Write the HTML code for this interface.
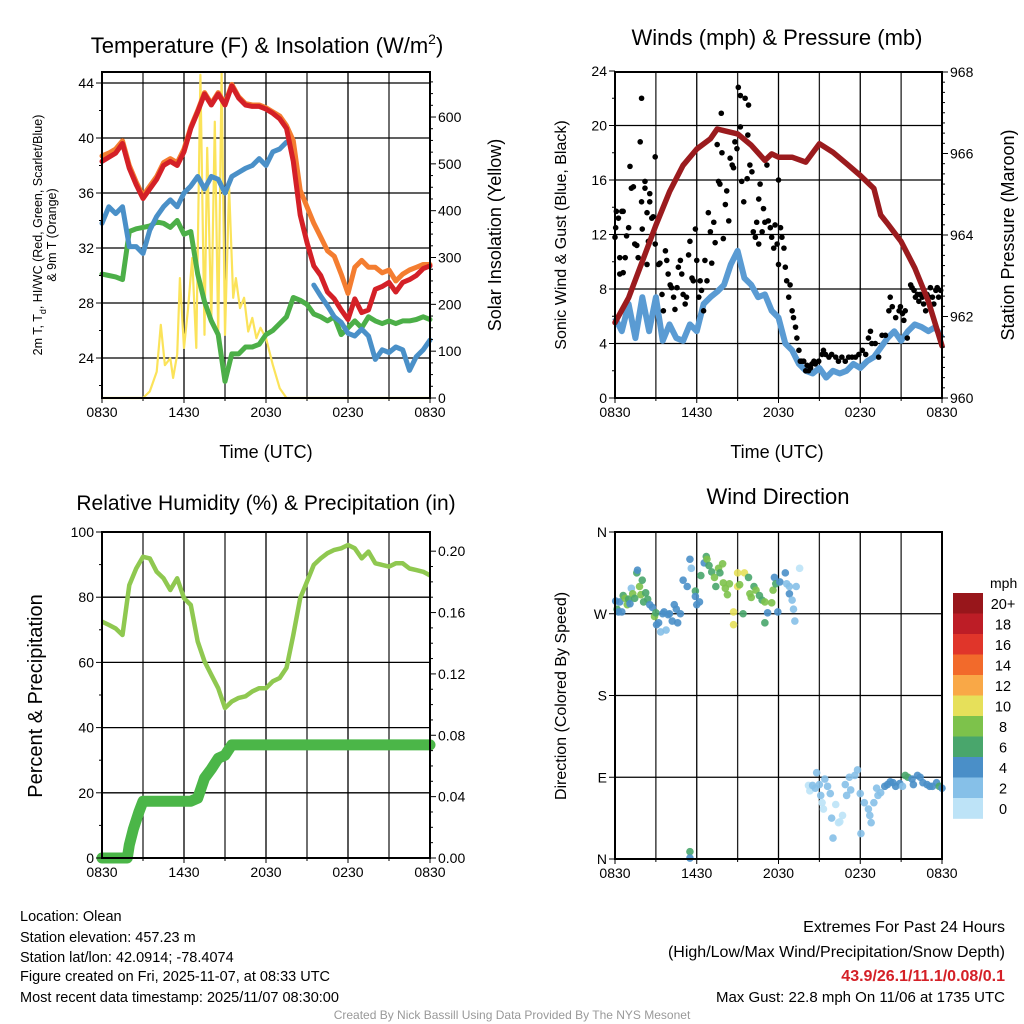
<!DOCTYPE html>
<html><head><meta charset="utf-8"><style>
html,body{margin:0;padding:0;background:#fff}
svg{display:block;font-family:"Liberation Sans",sans-serif}
</style></head><body>
<svg id="fig" width="1024" height="1024" viewBox="0 0 1024 1024" xmlns="http://www.w3.org/2000/svg">
<g id="p1"></g>
<g id="p2"></g>
<g id="p3"></g>
<g id="p4"></g>
<g id="txt">
<text x="20" y="921" font-size="14.5">Location: Olean</text>
<text x="20" y="942" font-size="14.5">Station elevation: 457.23 m</text>
<text x="20" y="962" font-size="14.5">Station lat/lon: 42.0914; -78.4074</text>
<text x="20" y="981" font-size="14.5">Figure created on Fri, 2025-11-07, at 08:33 UTC</text>
<text x="20" y="1002" font-size="14.5">Most recent data timestamp: 2025/11/07 08:30:00</text>
<text x="1005" y="932" font-size="16" text-anchor="end">Extremes For Past 24 Hours</text>
<text x="1005" y="957" font-size="16" text-anchor="end">(High/Low/Max Wind/Precipitation/Snow Depth)</text>
<text x="1005" y="981" font-size="16" font-weight="bold" fill="#d42027" text-anchor="end">43.9/26.1/11.1/0.08/0.1</text>
<text x="1005" y="1002" font-size="15" text-anchor="end">Max Gust: 22.8 mph On 11/06 at 1735 UTC</text>
<text x="512" y="1019" font-size="12" fill="#999" text-anchor="middle">Created By Nick Bassill Using Data Provided By The NYS Mesonet</text>
</g>
</svg>
<script>
// ---------- data ----------
const xTickLabels = ["0830","1430","2030","0230","0830"];
const tempRed = [38.3,38.6,38.9,39.6,37.8,36.6,35.6,36.3,37.0,38.0,38.3,38.0,39.0,40.7,41.9,43.2,42.4,43.2,42.4,43.8,42.9,42.4,42.3,42.3,42.1,41.8,41.4,40.7,38.3,34.4,32.4,30.7,30.0,28.8,28.3,27.5,26.8,28.3,27.3,27.5,29.0,29.2,29.5,28.8,29.5,29.7,30.0,30.5,30.7];
const tempOrange = [38.7,38.9,39.2,39.8,38.0,36.8,35.8,36.5,37.2,38.2,38.5,38.2,39.2,40.8,42.0,43.3,42.5,43.3,42.5,43.9,43.0,42.5,42.4,42.4,42.2,41.9,41.6,40.9,39.8,36.2,35.0,33.8,32.8,31.8,31.4,30.1,28.7,30.6,31.1,30.6,30.6,30.2,30.4,29.6,30.1,30.4,30.6,30.8,30.8];
const tempBlue = [33.8,35.0,34.5,35.0,32.1,32.1,31.6,33.3,34.3,35.0,35.5,35.0,36.0,36.5,37.2,36.3,37.2,37.0,36.0,37.2,37.5,37.8,38.0,38.5,38.0,39.0,39.2,39.7,null,null,null,29.3,28.5,27.8,27.0,26.6,25.8,25.6,26.1,25.6,23.9,24.6,24.4,24.8,24.6,23.1,24.1,24.6,25.3,24.6].slice(0,49);
const tempGreen = [30.1,30.0,29.9,29.7,33.2,33.4,33.5,33.6,33.9,33.8,33.5,34.0,33.0,33.2,30.1,28.1,26.7,25.7,22.3,24.3,24.3,24.8,24.8,25.0,25.7,26.0,26.5,27.0,28.4,28.2,27.9,27.2,27.0,26.7,27.0,25.7,26.2,26.7,26.2,27.0,26.7,26.5,26.7,26.5,26.7,26.7,26.8,27.0,26.8];
const solarT = [0,3.0,3.5,4.0,4.3,4.6,5.0,5.2,5.5,5.7,6.0,6.3,6.6,6.9,7.2,7.5,7.7,8.0,8.25,8.5,8.75,9.0,9.3,9.6,9.8,10.1,10.4,10.7,11.0,11.3,11.6,12.0,12.5,13.0,13.5,24];
const solarV = [0,0,14,56,156,70,85,43,93,256,107,192,299,107,690,135,534,164,590,135,696,135,449,214,256,192,214,142,171,128,150,128,71,21,0,0];
const windSonic = [5.9,4.9,6.9,4.4,7.4,4.9,7.4,4.2,5.4,4.4,4.2,5.4,4.9,6.9,7.4,7.8,8.3,9.8,10.8,8.8,8.3,7.4,7.6,6.4,5.9,4.0,3.5,2.5,2.0,1.8,2.2,1.5,2.0,1.8,2.0,2.5,2.2,2.7,3.0,3.7,4.4,4.9,4.2,4.9,5.4,5.2,4.9,5.2,4.4];
const pressT = [0,1,2,3,4,5,6,7,7.5,8,9,10,11,11.5,12,13,14,15,16,17,18,19,19.5,20,21,22,23,24];
const pressV = [961.85,962.46,963.35,964.24,965.06,965.71,966.11,966.36,966.60,966.56,966.48,966.20,965.83,965.99,965.91,965.91,965.79,966.24,966.03,965.75,965.46,965.14,964.49,964.28,963.84,963.19,962.37,961.28];
const gustT = [0.0,0.05,0.1,0.25,0.35,0.5,0.6,0.6,0.35,0.75,0.85,1.0,1.1,1.2,1.35,1.45,1.6,1.7,1.85,1.95,1.95,2.0,2.2,2.2,2.35,2.45,2.55,2.55,2.7,2.8,2.95,2.95,2.35,3.2,3.3,3.45,3.55,3.7,3.8,3.9,4.05,4.15,4.3,4.4,4.55,4.65,4.8,4.9,5.0,5.15,5.25,5.4,5.5,5.65,5.75,5.9,6.0,6.15,6.25,6.35,6.5,6.6,6.75,6.85,7.0,7.1,7.25,7.35,7.5,7.6,7.7,7.8,7.85,7.95,8.1,8.2,8.35,8.45,8.6,8.7,8.8,8.95,9.05,9.2,9.2,9.3,9.45,9.55,9.7,9.75,9.8,9.9,10.05,10.15,10.3,10.4,10.55,10.55,10.65,10.8,10.9,11.0,11.15,11.25,11.4,11.5,11.65,11.75,11.9,12.0,12.0,12.15,12.25,12.4,12.5,12.6,12.75,12.85,13.0,13.1,13.25,13.35,13.5,13.6,13.7,13.85,14.0,14.1,14.2,14.35,14.45,14.6,14.7,14.95,15.2,15.3,15.45,15.7,15.9,16.2,16.4,16.65,16.9,17.15,17.4,17.65,17.9,18.15,18.4,18.6,18.75,18.85,19.1,19.35,19.6,19.85,20.1,20.2,20.35,20.6,20.85,20.95,21.1,21.2,21.3,21.45,21.7,21.8,21.95,22.05,22.2,22.3,22.4,22.55,22.65,22.8,22.9,23.05,23.15,23.3,23.4,23.55,23.65,23.75,23.9];
const gustV = [11.8,12.5,13.7,13.2,10.3,13.7,9.2,13.7,9.1,10.3,11.9,12.5,17.0,15.4,15.5,11.3,11.2,10.3,18.8,22.0,14.4,12.4,15.4,15.9,13.6,11.5,14.4,15.0,13.2,13.3,17.7,11.3,9.8,9.8,9.9,7.6,6.4,10.8,10.1,9.1,8.3,8.1,7.4,6.5,8.1,9.6,10.1,9.1,7.6,6.9,7.4,10.5,11.5,8.8,8.6,12.4,10.1,7.4,8.6,7.9,6.4,10.1,8.6,13.6,12.2,9.9,12.9,11.4,18.6,15.9,15.7,20.9,18.0,11.7,14.2,15.2,13.0,17.6,17.1,16.9,18.8,18.3,22.8,22.2,19.9,15.9,14.4,22.0,16.1,19.3,21.5,17.1,16.6,12.2,11.8,12.9,11.3,14.6,15.7,12.2,13.9,12.9,17.1,13.0,12.5,11.8,11.0,12.7,11.3,9.8,16.0,12.5,11.8,11.0,9.6,8.6,7.4,8.3,6.4,5.9,5.2,4.4,3.5,2.7,2.7,2.7,2.0,2.4,2.0,2.2,2.5,2.7,2.5,2.7,3.2,3.5,3.2,3.0,3.2,3.0,2.7,3.0,2.7,3.0,3.0,3.0,3.2,3.5,3.2,4.4,4.9,4.0,4.0,3.0,4.6,4.6,6.4,7.4,6.7,5.9,6.4,6.7,6.2,5.7,6.4,4.4,8.3,8.1,7.9,7.4,7.6,7.1,7.6,7.4,6.9,6.4,7.6,7.4,8.1,7.4,6.9,7.9,8.1,7.4,7.9];
const rhV = [72.5,71.5,70.4,68.4,83.7,88.8,92.4,91.9,87.8,85.8,82.2,85.8,79.7,77.6,66.4,60.3,56.2,52.1,46.0,48.0,49.1,49.6,51.1,52.1,52.1,54.2,55.2,58.3,68.4,79.7,84.8,89.9,91.9,93.5,94.5,95.0,96.0,95.0,91.9,94.0,90.4,89.9,89.4,90.4,90.4,88.8,88.3,87.8,86.7];
const precipT = [0,1.85,2.0,2.3,2.7,3.0,6.5,7.0,7.5,8.0,8.5,9.0,9.5,24];
const precipV = [0,0,0.0085,0.019,0.030,0.037,0.037,0.039,0.052,0.058,0.065,0.067,0.0737,0.0737];
const dirT = [0.05,0.15,0.25,0.35,0.5,0.6,0.75,0.9,1.0,1.1,1.2,1.3,1.45,1.6,1.65,1.8,1.9,2.0,2.1,2.25,2.4,2.55,2.75,2.9,3.0,3.05,3.2,3.35,3.5,3.6,3.75,3.9,4.0,4.2,4.35,4.5,4.6,4.8,5.0,5.3,5.5,5.6,5.9,5.9,6.0,6.2,6.3,6.55,6.7,6.75,6.9,7.1,7.3,7.4,7.6,7.7,7.9,7.95,8.1,8.25,8.4,8.7,8.7,9.0,9.0,9.15,9.4,9.5,9.8,9.9,10.0,10.2,10.35,10.6,10.8,11.0,11.0,11.2,11.5,11.6,11.7,11.8,11.95,12.1,12.5,12.6,12.8,12.8,13.0,13.1,13.3,13.55,13.2,5.5,5.5,14.2,14.3,14.5,14.7,14.8,15.0,15.1,15.2,15.3,15.4,15.6,15.8,15.9,16.0,16.2,16.4,16.5,16.7,16.9,17.0,17.2,17.3,17.6,17.8,18.0,18.05,18.3,18.6,18.7,18.8,19.0,19.2,19.3,19.5,19.8,20.0,20.2,20.4,20.6,20.9,21.1,21.3,21.5,21.8,21.9,22.2,22.4,22.6,22.9,23.1,23.3,23.6,23.8,24.0];
const dirV = [284,275,272,283,272,290,287,280,286,281,298,292,287,315,318,300,291,307,283,293,286,280,277,267,271,258,260,250,270,272,252,269,270,262,280,275,260,270,307,300,330,320,295,289,280,283,312,326,333,330,323,316,310,300,320,315,325,304,298,291,303,272,258,300,315,302,270,315,310,292,288,300,296,290,285,283,260,271,282,296,310,303,272,305,315,303,300,292,285,275,300,320,262,8,1,81,75,81,78,95,82,70,62,55,88,80,72,45,23,60,40,41,48,82,70,90,76,92,98,72,28,62,55,48,40,62,78,70,73,80,82,85,84,80,83,80,92,90,88,82,92,90,84,82,80,80,84,80,78];
const dirSpd = [4,6,4,4,4,6,8,8,6,4,2,8,6,6,4,8,8,6,6,6,6,4,4,8,6,4,4,2,4,4,2,4,4,4,4,4,4,4,4,4,4,2,6,4,4,4,6,4,6,8,6,6,8,6,8,6,8,8,8,8,8,10,10,10,10,8,6,10,6,8,8,6,8,6,6,8,6,4,8,8,4,6,4,4,4,2,2,4,2,2,2,0,2,6,4,0,0,2,2,2,2,2,0,0,2,2,2,2,2,0,0,0,0,2,2,2,2,2,2,2,2,2,2,2,2,2,2,2,2,4,4,4,4,4,4,2,6,6,4,4,4,4,4,4,4,4,4,6,4];
const cbLabels = ["20+","18","16","14","12","10","8","6","4","2","0"];
const cbColors = ["#98161b","#bd1d26","#e0352a","#f26a2b","#f9a847","#e6e05a","#7dc24b","#49a66c","#4a8fc8","#86c0e8","#bde3f7"];

// ---------- helpers ----------
const NS="http://www.w3.org/2000/svg";
function mk(parent, tag, attrs){const e=document.createElementNS(NS,tag);for(const k in attrs)e.setAttribute(k,attrs[k]);parent.appendChild(e);return e;}
function halfHours(){const a=[];for(let i=0;i<=48;i++)a.push(i/2);return a;}
const HH = halfHours();
function pathD(ts, vs, xf, yf){let d="",pen=false;for(let i=0;i<ts.length;i++){const v=vs[i];if(v===null||v===undefined){pen=false;continue;}d+=(pen?"L":"M")+xf(ts[i]).toFixed(1)+","+yf(v).toFixed(1);pen=true;}return d;}
function spdColor(s){const idx=Math.min(10,Math.max(0,10-Math.round(s/2)));return cbColors[idx];}

function frame(g, L, R, T, B, hLines, xf){
  const gr = mk(g,"g",{});
  
  
  for(let h=0;h<=24;h+=3){mk(gr,"line",{x1:xf(h),x2:xf(h),y1:T,y2:B,stroke:(h%6===0?"#000":"#222"),"stroke-width":1.3});}
  hLines.forEach(y=>mk(gr,"line",{x1:L,x2:R,y1:y,y2:y,stroke:"#000","stroke-width":1.3}));
  // x ticks + labels
  xTickLabels.forEach((lab,i)=>{const x=xf(i*6);
    mk(g,"line",{x1:x,x2:x,y1:B,y2:B+5,stroke:"#000","stroke-width":1});
    const t=mk(g,"text",{x:x,y:B+19,"font-size":14,"text-anchor":"middle"});t.textContent=lab;
    
    
  });
  for(let h=3;h<24;h+=6){mk(g,"line",{x1:xf(h),x2:xf(h),y1:B,y2:B+3,stroke:"#000","stroke-width":1});}
}
function box(g,L,R,T,B){const r=mk(g,"rect",{x:L,y:T,width:R-L,height:B-T,fill:"none",stroke:"#000","stroke-width":2});
  
  }
function yTicks(g, vals, labs, yf, x, side, len, withLabel, fs){
  vals.forEach((v,i)=>{const y=yf(v);
    mk(g,"line",{x1:x,x2:x+(side<0?-len:len),y1:y,y2:y,stroke:"#000","stroke-width":1});
    if(withLabel){const t=mk(g,"text",{x:x+(side<0?-8:8),y:y+5,"font-size":fs||14,"text-anchor":side<0?"end":"start"});t.textContent=labs[i];
      
      }
  });
}
function label(g,txt,x,y,fs,rot,name,anchor){const t=mk(g,"text",{x:x,y:y,"font-size":fs,"text-anchor":anchor||"middle"});if(rot)t.setAttribute("transform",`rotate(${rot} ${x} ${y})`);t.textContent=txt;
  
  return t;}

// ---------- panel 1 ----------
(function(){
  const g=document.getElementById("p1");const L=102,R=430,T=72,B=398;
  const xf=h=>L+h/24*(R-L);const yT=v=>358-(v-24)*13.75;const yS=v=>398-v*0.4683;
  frame(g,L,R,T,B,[24,28,32,36,40,44].map(yT),xf);
  const s1=mk(g,"path",{d:pathD(solarT,solarV,xf,yS),fill:"none",stroke:"#fbe35a","stroke-width":2.2,"stroke-linejoin":"round"});
  
  
  const lines=[[tempGreen,"#4caf48","dewpoint-line"],[tempOrange,"#f47d30","temp-9m-line"],[tempBlue,"#4a90c8","windchill-line"],[tempRed,"#d42027","temp-2m-line"]];
  lines.forEach(([vs,c,n])=>{const p=mk(g,"path",{d:pathD(HH,vs,xf,yT),fill:"none",stroke:c,"stroke-width":5,"stroke-linejoin":"round","stroke-linecap":"round"});
    
    });
  box(g,L,R,T,B);
  yTicks(g,[24,28,32,36,40,44],["24","28","32","36","40","44"],yT,L,-1,6,true);
  yTicks(g,[22,26,30,34,38,42],[],yT,L,-1,3,false);
  yTicks(g,[0,100,200,300,400,500,600],["0","100","200","300","400","500","600"],yS,R,1,6,true);
  const mn=[];for(let v=25;v<=675;v+=25)if(v%100)mn.push(v);yTicks(g,mn,[],yS,R,1,3,false);
  const tt=mk(g,"text",{x:267,y:53,"font-size":22,"text-anchor":"middle"});tt.innerHTML='Temperature (F) &amp; Insolation (W/m<tspan dy="-9" font-size="14">2</tspan><tspan dy="9">)</tspan>';
  
  
  label(g,"Time (UTC)",266,458,18,0,"x-axis-title");
  const y1=mk(g,"text",{x:42,y:235,"font-size":12.5,"text-anchor":"middle",transform:"rotate(-90 42 235)"});y1.innerHTML='2m T, T<tspan dy="4" font-size="9">d</tspan><tspan dy="-4">, HI/WC (Red, Green, Scarlet/Blue)</tspan>';
  
  
  label(g,"& 9m T (Orange)",56,235,12.5,-90,"y-axis-title-line2");
  label(g,"Solar Insolation (Yellow)",501,235,18,-90,"right-axis-title");
})();

// ---------- panel 2 ----------
(function(){
  const g=document.getElementById("p2");const L=615,R=942,T=72,B=398;
  const xf=h=>L+h/24*(R-L);const yW=v=>398-v*13.625;const yP=v=>398-(v-960)*40.75;
  frame(g,L,R,T,B,[4,8,12,16,20].map(yW),xf);
  const b=mk(g,"path",{d:pathD(HH,windSonic,xf,yW),fill:"none",stroke:"#5a9bd3","stroke-width":6,"stroke-linejoin":"round"});
  
  
  gustT.forEach((t,i)=>{const c=mk(g,"circle",{cx:xf(t),cy:yW(gustV[i]),r:2.8,fill:"#000"});
    
    });
  const p=mk(g,"path",{d:pathD(pressT,pressV,xf,yP),fill:"none",stroke:"#9b1b1e","stroke-width":5.5,"stroke-linejoin":"round","stroke-linecap":"round"});
  
  
  box(g,L,R,T,B);
  yTicks(g,[0,4,8,12,16,20,24],["0","4","8","12","16","20","24"],yW,L,-1,6,true);
  yTicks(g,[2,6,10,14,18,22],[],yW,L,-1,3,false);
  yTicks(g,[960,962,964,966,968],["960","962","964","966","968"],yP,R,1,6,true);
  const mn=[];for(let v=960.25;v<968;v+=0.25)if(Math.abs(v-Math.round(v/2)*2)>0.01)mn.push(v);yTicks(g,mn,[],yP,R,1,3,false);
  label(g,"Winds (mph) & Pressure (mb)",777,45,22,0,"winds-title");
  label(g,"Time (UTC)",777,458,18,0,"x-axis-title");
  label(g,"Sonic Wind & Gust (Blue, Black)",566,235,16,-90,"y-axis-title");
  label(g,"Station Pressure (Maroon)",1014,235,18,-90,"right-axis-title");
})();

// ---------- panel 3 ----------
(function(){
  const g=document.getElementById("p3");const L=102,R=430,T=532,B=858;
  const xf=h=>L+h/24*(R-L);const yR=v=>858-v*3.26;const yPr=v=>858-v/0.2125*326;
  frame(g,L,R,T,B,[20,40,60,80].map(yR),xf);
  const r=mk(g,"path",{d:pathD(HH,rhV,xf,yR),fill:"none",stroke:"#8fc850","stroke-width":4.5,"stroke-linejoin":"round"});
  
  
  const p=mk(g,"path",{d:pathD(precipT,precipV,xf,yPr),fill:"none",stroke:"#4bb648","stroke-width":11,"stroke-linejoin":"round","stroke-linecap":"round"});
  
  
  box(g,L,R,T,B);
  yTicks(g,[0,20,40,60,80,100],["0","20","40","60","80","100"],yR,L,-1,6,true);
  yTicks(g,[10,30,50,70,90],[],yR,L,-1,3,false);
  yTicks(g,[0,0.04,0.08,0.12,0.16,0.2],["0.00","0.04","0.08","0.12","0.16","0.20"],yPr,R,1,6,true);
  const mn=[];for(let v=0.01;v<0.21;v+=0.01)if(Math.round(v*100)%4)mn.push(v);yTicks(g,mn,[],yPr,R,1,3,false);
  label(g,"Relative Humidity (%) & Precipitation (in)",266,510,21,0,"humidity-title");
  label(g,"Percent & Precipitation",42,696,20,-90,"y-axis-title");
})();

// ---------- panel 4 ----------
(function(){
  const g=document.getElementById("p4");const L=615,R=942,T=532,B=859;
  const xf=h=>L+h/24*(R-L);const yD=v=>859-v*(327/360);
  frame(g,L,R,T,B,[90,180,270].map(yD),xf);
  mk(g,"line",{x1:L,x2:R,y1:T,y2:T,stroke:"#000","stroke-width":1.3});
  dirT.forEach((t,i)=>{const c=mk(g,"circle",{cx:xf(t),cy:yD(dirV[i]),r:3.8,fill:spdColor(dirSpd[i]),"fill-opacity":0.9});
    
    });
  box(g,L,R,T,B);
  yTicks(g,[0,90,180,270,360],["N","E","S","W","N"],yD,L,-1,6,true);
  label(g,"Wind Direction",778,504,22,0,"wind-direction-title");
  label(g,"Direction (Colored By Speed)",566,696,16,-90,"y-axis-title");
  const cb=mk(g,"g",{});
  
  
  label(cb,"mph",990,588,14,0,"colorbar-title","start");
  cbColors.forEach((c,i)=>{const r=mk(cb,"rect",{x:953,y:593+i*20.5,width:30,height:20.8,fill:c});
    
    
    label(cb,cbLabels[i],1003,593+i*20.5+16,14.5,0,"colorbar-label");});
})();
</script>
</body></html>
